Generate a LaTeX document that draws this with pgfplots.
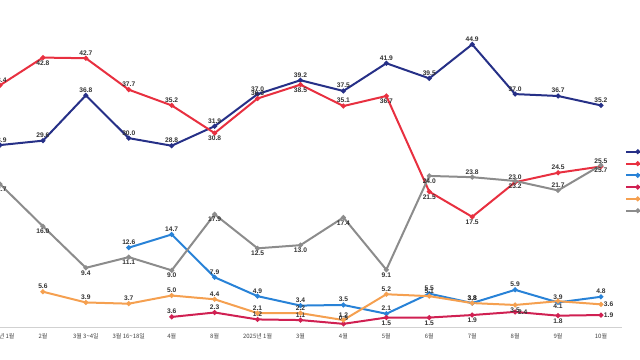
\documentclass[border=0pt]{standalone}
\usepackage{fontspec}
\setmainfont{Liberation Sans}
\newfontfamily\kr{Noto Sans CJK KR}
\usepackage{pgfplots}
\pgfplotsset{compat=1.18}
\definecolor{cnavy}{RGB}{38,48,135}
\definecolor{cred}{RGB}{232,48,64}
\definecolor{cblue}{RGB}{40,130,215}
\definecolor{ccrim}{RGB}{208,32,82}
\definecolor{corange}{RGB}{245,160,80}
\definecolor{cgray}{RGB}{140,140,140}
\begin{document}
\begin{tikzpicture}
\useasboundingbox (0pt,0pt) rectangle (480pt,270pt);
\clip (0pt,0pt) rectangle (480pt,270pt);
\begin{axis}[
  at={(0pt,24.75pt)}, anchor=south west,
  scale only axis, width=466.5pt, height=245.25pt,
  xmin=0, xmax=14.49, ymin=0, ymax=51.95,
  axis y line=none, axis x line*=bottom,
  x axis line style={draw=black!18, line width=0.7pt},
  xtick={0,...,14},
  xticklabels={2024년 1월,2월,3월 3\textasciitilde4일,3월 16\textasciitilde18일,4월,8월,2025년 1월,3월,4월,5월,6월,7월,8월,9월,10월},
  xticklabel style={font=\kr\fontsize{4.5}{5}\selectfont, text=black!75, yshift=-1.5pt},
  major tick length=0pt,
  point meta=explicit symbolic,
  visualization depends on={value \thisrow{a} \as \anc},
  nodes near coords style={font=\bfseries\fontsize{5}{6}\selectfont, text=black!80, inner sep=1.5pt, anchor=\anc},
  every axis plot/.append style={line width=1.5pt, mark=*, mark size=1pt, nodes near coords},
  legend style={at={(1.005,0.549)}, anchor=north west, draw=none, fill=none,
    font=\kr\fontsize{5}{6}\selectfont, inner sep=0pt,
    nodes={inner sep=0pt, text height=5pt, text depth=1pt}, row sep=2.85pt},
  legend cell align=left,
]
\addplot[cnavy] table[x=x,y=y,meta=lab]{
x y lab a
0 28.9 28.9 south
1 29.6 29.6 south
2 36.8 36.8 south
3 30.0 30.0 south
4 28.8 28.8 south
5 31.9 31.9 south
6 37.0 37.0 south
7 39.2 39.2 south
8 37.5 37.5 south
9 41.9 41.9 south
10 39.5 39.5 south
11 44.9 44.9 south
12 37.0 37.0 south
13 36.7 36.7 south
14 35.2 35.2 south
};
\addlegendentry{더불어민주당}
\addplot[cred] table[x=x,y=y,meta=lab]{
x y lab a
0 38.4 38.4 south
1 42.8 42.8 north
2 42.7 42.7 south
3 37.7 37.7 south
4 35.2 35.2 south
5 30.8 30.8 north
6 36.3 36.3 south
7 38.5 38.5 north
8 35.1 35.1 south
9 36.7 36.7 north
10 21.5 21.5 north
11 17.5 17.5 north
12 23.0 23.0 south
13 24.5 24.5 south
14 25.5 25.5 south
};
\addlegendentry{국민의힘}
\addplot[cblue] table[x=x,y=y,meta=lab]{
x y lab a
3 12.6 12.6 south
4 14.7 14.7 south
5 7.9 7.9 south
6 4.9 4.9 south
7 3.4 3.4 south
8 3.5 3.5 south
9 2.1 2.1 south
10 5.3 5.5 south
11 3.8 3.8 south
12 5.9 5.9 south
13 3.9 3.9 south
14 4.8 4.8 south
};
\addlegendentry{조국혁신당}
\addplot[ccrim] table[x=x,y=y,meta=lab]{
x y lab a
4 1.6 3.6 south
5 2.3 2.3 south
6 1.2 1.2 south
7 1.1 1.1 south
8 0.5 0.5 south
9 1.5 1.5 north
10 1.5 1.5 north
11 1.9 1.9 north
12 2.4 2.4 west
13 1.8 1.8 north
14 1.9 1.9 west
};
\addlegendentry{개혁신당}
\addplot[corange] table[x=x,y=y,meta=lab]{
x y lab a
1 5.6 5.6 south
2 3.9 3.9 south
3 3.7 3.7 south
4 5.0 5.0 south
5 4.4 4.4 south
6 2.2 2.1 south
7 2.2 2.2 south
8 1.1 1.2 south
9 5.2 5.2 south
10 4.9 5.1 south
11 3.8 3.8 south
12 3.5 3.5 north
13 4.1 4.1 north
14 3.6 3.6 west
};
\addlegendentry{기타 정당}
\addplot[cgray] table[x=x,y=y,meta=lab]{
x y lab a
0 22.7 22.7 north
1 16.0 16.0 north
2 9.4 9.4 north
3 11.1 11.1 north
4 9.0 9.0 north
5 17.9 17.9 north
6 12.5 12.5 north
7 13.0 13.0 north
8 17.4 17.4 north
9 9.1 9.1 north
10 24.0 24.0 north
11 23.8 23.8 south
12 23.2 23.2 north
13 21.7 21.7 south
14 25.7 25.7 north
};
\addlegendentry{없음/모름}
\end{axis}
\end{tikzpicture}
\end{document}
